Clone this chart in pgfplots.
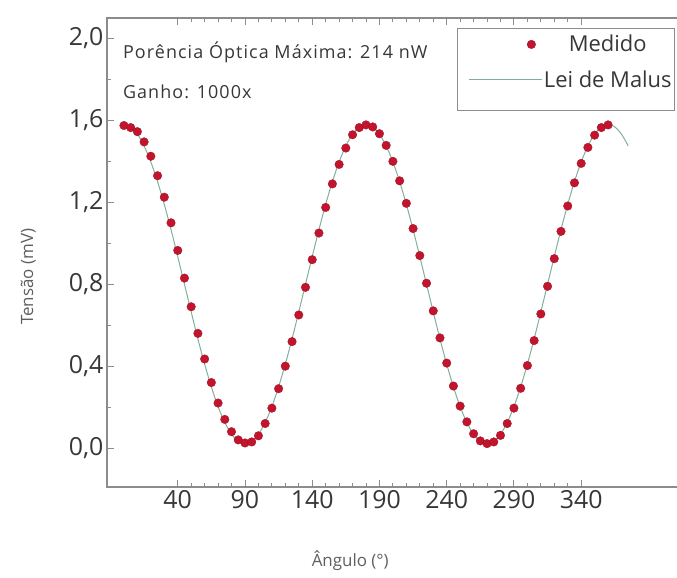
\documentclass[border=0pt]{standalone}
\usepackage{fontspec}
\setmainfont{Open Sans}
\newfontfamily\annfont[LetterSpace=6]{Open Sans}
\usepackage{pgfplots}
\pgfplotsset{compat=1.18}
\definecolor{ptc}{RGB}{195,20,45}
\definecolor{fitc}{RGB}{130,175,155}
\definecolor{axc}{RGB}{140,140,140}
\definecolor{txt}{RGB}{55,55,55}
\definecolor{lab}{RGB}{95,95,95}
\pgfplotsset{
  medlegend/.style={legend image code/.code={\path (-9bp,0bp); \draw[mark repeat=2, mark phase=2, ##1] plot coordinates {(0bp,0bp) (62bp,0bp) (73bp,0bp)};}},
  fitlegend/.style={legend image code/.code={\path (-9bp,0bp); \draw[##1] (0bp,0bp) -- (73bp,0bp);}},
}
\begin{document}
\begin{tikzpicture}
\path[use as bounding box] (0,0) rectangle (677bp,578bp);
\begin{axis}[
  at={(107bp,91bp)}, anchor=south west, scale only axis,
  width=571bp, height=469bp,
  xmin=-12.6, xmax=412, ymin=-0.19, ymax=2.1,
  xtick={40,90,140,190,240,290,340},
  ytick={0,0.4,0.8,1.2,1.6,2.0},
  minor x tick num=4, minor y tick num=1,
  tick align=inside, xtick pos=both, ytick pos=left,
  axis line style={axc, line width=1.3bp},
  every tick/.style={axc, line width=0.9bp},
  major tick length=7bp, minor tick length=4bp,
  /pgf/number format/assume math mode=true,
  ticklabel style={font=\fontsize{25}{25}\selectfont, text=txt},
  y tick label style={/pgf/number format/.cd, fixed, fixed zerofill, precision=1, use comma},
  xlabel={Ângulo (°)},
  ylabel={Tensão (mV)},
  xlabel style={at={(axis description cs:0.426,-0.156)}, anchor=center, font=\fontsize{17}{17}\selectfont, text=lab},
  ylabel style={at={(axis description cs:-0.138,0.448)}, anchor=center, font=\fontsize{17}{17}\selectfont, text=lab},
  legend style={at={(axis description cs:0.995,0.979)}, anchor=north east, draw=axc, line width=1bp,
    font=\fontsize{22}{22}\selectfont, text=txt, row sep=13bp, inner xsep=2bp, inner ysep=5bp,
    nodes={inner xsep=1bp}},
  legend cell align=center,
  clip=false,
]
\addplot[only marks, mark=*, mark size=4.3bp, mark options={fill=ptc, draw=ptc!80!black, line width=0.3bp}, medlegend]
coordinates {
(0,1.575)(5,1.565)(10,1.545)(15,1.495)(20,1.425)(25,1.330)(30,1.225)(35,1.100)(40,0.965)
(45,0.830)(50,0.690)(55,0.560)(60,0.435)(65,0.320)(70,0.220)(75,0.140)(80,0.080)(85,0.040)
(90,0.025)(95,0.030)(100,0.060)(105,0.120)(110,0.195)(115,0.290)(120,0.400)(125,0.520)
(130,0.650)(135,0.785)(140,0.920)(145,1.050)(150,1.175)(155,1.290)(160,1.385)(165,1.465)
(170,1.530)(175,1.565)(180,1.578)(185,1.568)(190,1.535)(195,1.478)(200,1.400)(205,1.305)
(210,1.195)(215,1.072)(220,0.940)(225,0.805)(230,0.670)(235,0.538)(240,0.415)(245,0.303)
(250,0.205)(255,0.128)(260,0.070)(265,0.035)(270,0.022)(275,0.030)(280,0.062)(285,0.120)
(290,0.195)(295,0.292)(300,0.403)(305,0.525)(310,0.655)(315,0.790)(320,0.925)(325,1.058)
(330,1.182)(335,1.295)(340,1.390)(345,1.468)(350,1.528)(355,1.565)(360,1.578)
};
\addlegendentry{Medido}
\addplot[fitc, line width=1bp, smooth, no marks, fitlegend]
coordinates {
(0,1.580)(5,1.568)(10,1.533)(15,1.475)(20,1.397)(25,1.301)(30,1.190)(35,1.067)(40,0.935)
(45,0.800)(50,0.665)(55,0.533)(60,0.410)(65,0.299)(70,0.202)(75,0.125)(80,0.067)(85,0.032)
(90,0.020)(95,0.032)(100,0.067)(105,0.125)(110,0.202)(115,0.299)(120,0.410)(125,0.533)
(130,0.665)(135,0.800)(140,0.935)(145,1.067)(150,1.190)(155,1.301)(160,1.397)(165,1.475)
(170,1.533)(175,1.568)(180,1.580)(185,1.568)(190,1.533)(195,1.475)(200,1.397)(205,1.301)
(210,1.190)(215,1.067)(220,0.935)(225,0.800)(230,0.665)(235,0.533)(240,0.410)(245,0.299)
(250,0.202)(255,0.125)(260,0.067)(265,0.032)(270,0.020)(275,0.032)(280,0.067)(285,0.125)
(290,0.202)(295,0.299)(300,0.410)(305,0.533)(310,0.665)(315,0.800)(320,0.935)(325,1.067)
(330,1.190)(335,1.301)(340,1.397)(345,1.475)(350,1.533)(355,1.568)(360,1.580)(365,1.568)
(370,1.533)(375,1.475)
};
\addlegendentry{Lei de Malus}
\addlegendimage{empty legend}
\addlegendentry[inner ysep=0bp]{}
\node[anchor=west, font=\annfont\fontsize{18}{18}\selectfont, text=txt] at (axis description cs:0.022,0.9275) {Porência Óptica Máxima: 214 nW};
\node[anchor=west, font=\annfont\fontsize{18}{18}\selectfont, text=txt] at (axis description cs:0.022,0.842) {Ganho: 1000x};
\end{axis}
\end{tikzpicture}
\end{document}
